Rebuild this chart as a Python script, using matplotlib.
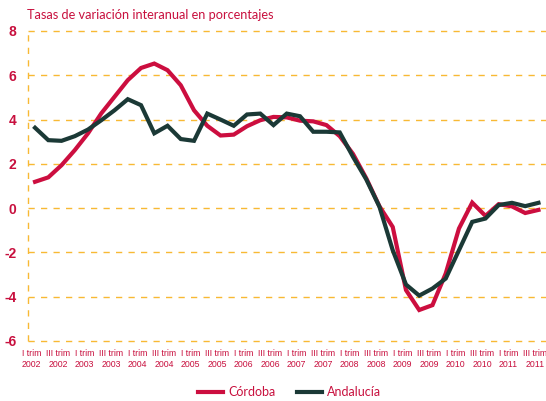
import matplotlib
matplotlib.use("Agg")
import matplotlib.pyplot as plt
import numpy as np

# ---- datos (tasas de variación interanual, %) ----
years = list(range(2002, 2012))
trims = ["I trim", "III trim"]

cordoba = [1.19, 1.39, 1.94, 2.62, 3.38, 4.28, 5.03, 5.78, 6.33, 6.53,
           6.23, 5.55, 4.42, 3.72, 3.28, 3.32, 3.70, 3.97, 4.12, 4.10,
           3.95, 3.92, 3.75, 3.25, 2.45, 1.35, 0.08, -0.85, -3.70, -4.60,
           -4.38, -2.95, -0.92, 0.25, -0.35, 0.18, 0.08, -0.22, -0.08]
andalucia = [3.63, 3.07, 3.04, 3.25, 3.55, 3.97, 4.42, 4.92, 4.65, 3.38,
             3.72, 3.12, 3.04, 4.27, 4.00, 3.72, 4.23, 4.27, 3.75, 4.27,
             4.15, 3.45, 3.45, 3.42, 2.32, 1.30, 0.06, -1.90, -3.45, -3.95,
             -3.63, -3.18, -1.90, -0.62, -0.47, 0.14, 0.24, 0.09, 0.24]

tick_labels = [f"{t}\n{y}" for y in years for t in trims]
y_ticks = [-6, -4, -2, 0, 2, 4, 6, 8]

# ---- estilo ----
RED = "#cc0e3f"
DARK = "#1b3936"
GRID = "#f8b934"
TXT = "#c8103e"

fig = plt.figure(figsize=(5.46, 4.01), dpi=100)
ax = fig.add_axes([27.5 / 546, 1 - 341 / 401, 1 - 27.5 / 546, 310 / 401])

x = np.arange(len(cordoba))
ax.plot(x, cordoba, color=RED, lw=3.0, solid_joinstyle="miter", label="Córdoba", zorder=3)
ax.plot(x, andalucia, color=DARK, lw=3.0, solid_joinstyle="miter", label="Andalucía", zorder=4)

ax.set_xlim(-0.57, len(cordoba) - 1 + 0.57)
ax.set_ylim(-6, 8)

for v in y_ticks:
    ax.axhline(v, color=GRID, lw=1.0, dashes=(4.5, 4.5), zorder=1, clip_on=False)
ax.axvline(ax.get_xlim()[0], color=GRID, lw=1.0, dashes=(4.5, 4.5), zorder=1, clip_on=False)

for s in ax.spines.values():
    s.set_visible(False)

ax.set_yticks(y_ticks)
ax.set_yticklabels([str(v) for v in y_ticks], color=TXT, fontsize=10,
                   fontweight="bold", family="Liberation Sans")
# etiquetas un poco a la izquierda del punto, como en el original
ax.set_xticks(x[::2] - 0.25)
ax.set_xticklabels(tick_labels, color=TXT, fontsize=6.3,
                   family="Liberation Sans", linespacing=1.25)
ax.tick_params(axis="y", length=0, pad=8)
ax.tick_params(axis="x", length=0, pad=6)

fig.text(27 / 546, 1 - 15 / 401, "Tasas de variación interanual en porcentajes",
         color=TXT, fontsize=9.2, family="Lato", va="center", ha="left")

leg = fig.legend(loc="center", bbox_to_anchor=(0.53, 0.022), ncol=2, frameon=False,
                 handlelength=2.0, columnspacing=1.7, handletextpad=0.4,
                 prop={"family": "Lato", "size": 9})
for t in leg.get_texts():
    t.set_color(TXT)

fig.savefig("out.png", dpi=100)
